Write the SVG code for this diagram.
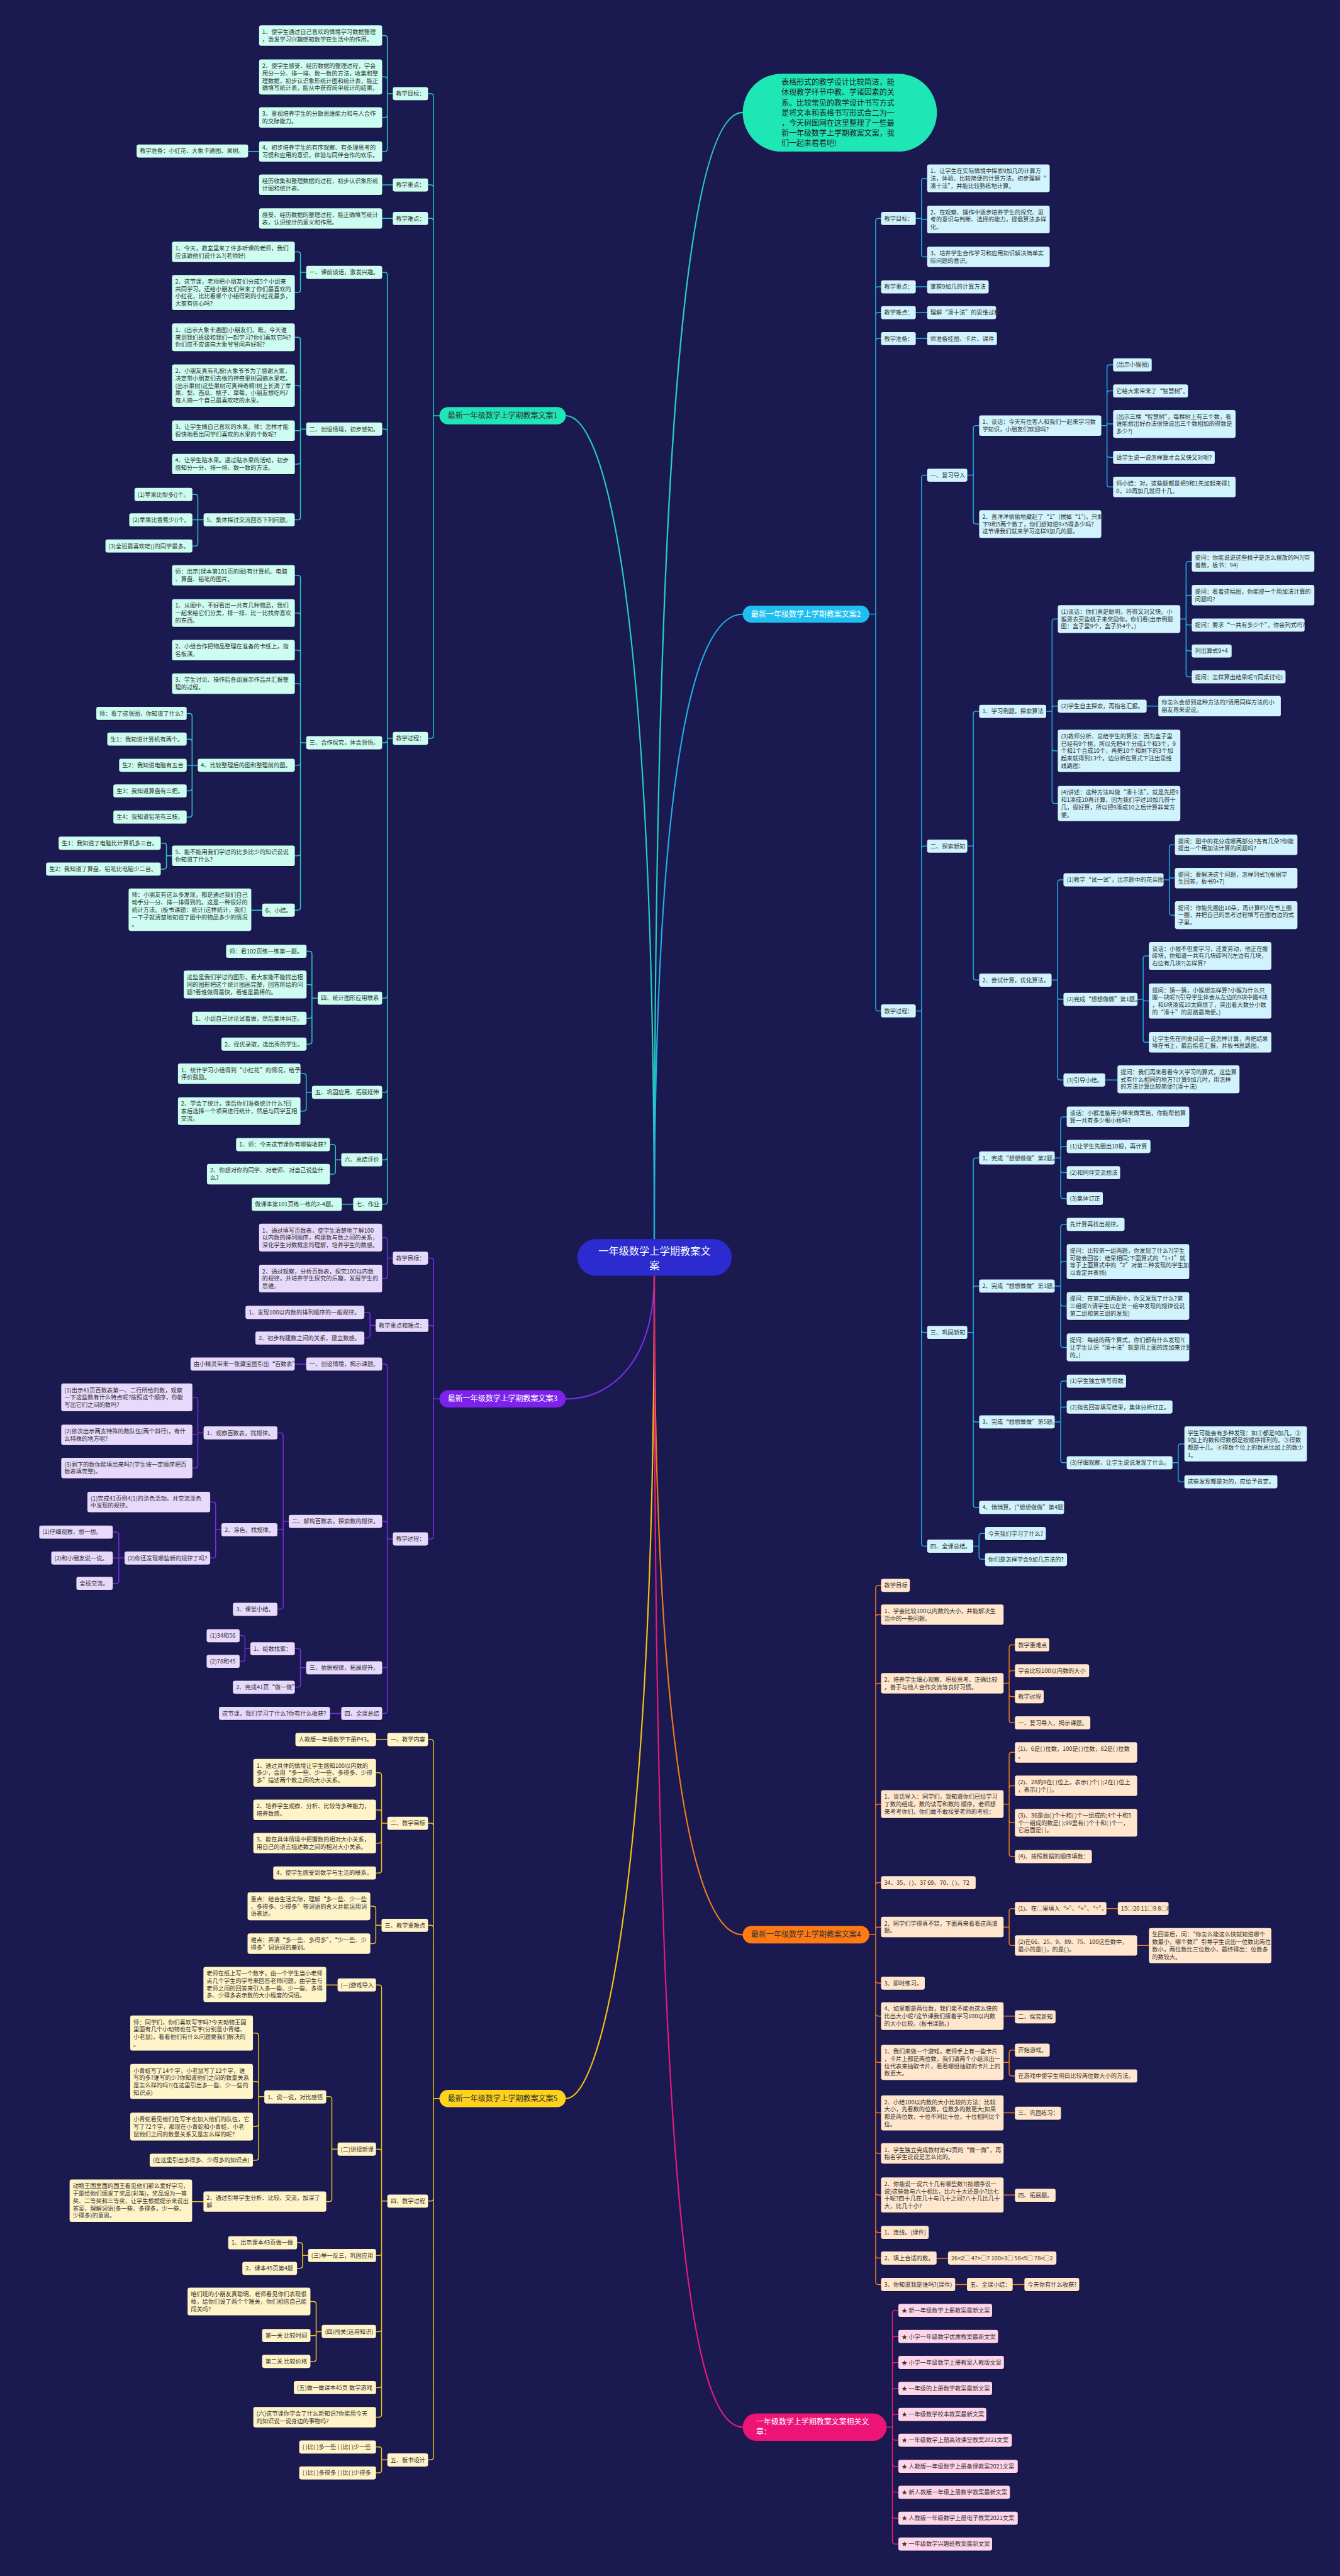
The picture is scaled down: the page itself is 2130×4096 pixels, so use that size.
<svg xmlns="http://www.w3.org/2000/svg" width="2130" height="4096" viewBox="0 0 2130 4096">
<defs>
<filter id="sh" x="-5%" y="-10%" width="110%" height="130%"><feDropShadow dx="0.6" dy="1.2" stdDeviation="0.8" flood-color="#000" flood-opacity="0.35"/></filter>
</defs>
<style>
.t{font-family:"Noto Sans CJK SC","Liberation Sans",sans-serif;font-size:11.1px;fill:#333}
.bt{font-family:"Noto Sans CJK SC","Liberation Sans",sans-serif;font-size:14.4px;text-anchor:middle}
rect.n{rx:4px;ry:4px;filter:url(#sh)}
.r1{fill:#cdfcf0}.r2{fill:#d0f3fd}.r3{fill:#e6d9fc}.r4{fill:#ffe6cd}.r5{fill:#fff3c8}.r6{fill:#ffd5ea}
.c{fill:none;stroke-width:1.8;stroke-linecap:round}
.k{fill:none;stroke-width:2.6;stroke-linecap:round}
.c1{stroke:#26cfc0}.c2{stroke:#1fb0e6}.c3{stroke:#7b2de8}.c4{stroke:#f07a1c}.c5{stroke:#f2c512}.c6{stroke:#e61b7b}
</style>
<rect width="2130" height="4096" fill="#1a1950"/>
<g transform="scale(0.832)">
<g id="connectors">
<path class="k c1" d="M1250 2368C1250 1000 1300 215 1419 215"/>
<path class="k c1" d="M1250 2368C1250 1100 1150 794.5 1081 794.5"/>
<path class="k c2" d="M1250 2368C1250 1500 1320 1173.7 1419 1173.7"/>
<path class="k c3" d="M1250 2438C1250 2600 1170 2673.5 1081 2673.5"/>
<path class="k c4" d="M1250 2438C1250 3300 1320 3697.5 1419 3697.5"/>
<path class="k c5" d="M1250 2438C1250 3600 1150 4010.5 1081 4010.5"/>
<path class="k c6" d="M1250 2438C1250 4200 1320 4638.5 1419 4638.5"/>
<path class="c c1" d="M839.5 794.5H828M828 794.5V184Q828 179 823 179H817.7M828 794.5V358.5Q828 353.5 823 353.5H817.7M828 794.5V422.5Q828 417.5 823 417.5H817.7M828 794.5V1406Q828 1411 823 1411H817.7
M750.5 179H740M740 179V73Q740 68 735 68H730M740 179V152Q740 147 735 147H730M740 179V219.5Q740 224.5 735 224.5H730M740 179V284.5Q740 289.5 735 289.5H730
M495 289.5H474M750.5 353.5H730M750.5 417.5H730
M750.5 1411H740M740 1411V525.5Q740 520.5 735 520.5H730M740 1411V825Q740 820 735 820H730M740 1411V1414.5Q740 1419.5 735 1419.5H730M740 1411V1902.5Q740 1907.5 735 1907.5H730M740 1411V2082.5Q740 2087.5 735 2087.5H730M740 1411V2211.5Q740 2216.5 735 2216.5H730M740 1411V2296.5Q740 2301.5 735 2301.5H730
M585 520.5H574M574 520.5V486.3Q574 481.3 569 481.3H563.2M574 520.5V554Q574 559 569 559H563.2
M585 820H574M574 820V649.5Q574 644.5 569 644.5H563.2M574 820V742Q574 737 569 737H563.2M574 820V823H563.2M574 820V882Q574 887 569 887H563.2M574 820V988.5Q574 993.5 569 993.5H563.2
M389 993.5H367.5M378 993.5V950Q378 945 373 945H367.5M378 993.5V1038.5Q378 1043.5 373 1043.5H367.5
M585 1419.5H574M574 1419.5V1104.5Q574 1099.5 569 1099.5H563.2M574 1419.5V1176.5Q574 1171.5 569 1171.5H563.2M574 1419.5V1247.5Q574 1242.5 569 1242.5H563.2M574 1419.5V1311.5Q574 1306.5 569 1306.5H563.2M574 1419.5V1457.5Q574 1462.5 569 1462.5H563.2M574 1419.5V1630.5Q574 1635.5 569 1635.5H563.2M574 1419.5V1734.5Q574 1739.5 569 1739.5H563.2
M377.8 1462.5H356.6M367 1462.5V1368.5Q367 1363.5 362 1363.5H356.6M367 1462.5V1417.5Q367 1412.5 362 1412.5H356.6M367 1462.5V1506.5Q367 1511.5 362 1511.5H356.6M367 1462.5V1556.5Q367 1561.5 362 1561.5H356.6
M328.7 1635.5H318M318 1635.5V1616.5Q318 1611.5 313 1611.5H307M318 1635.5V1656Q318 1661 313 1661H307
M501 1739.5H480
M607 1907.5H596M596 1907.5V1823Q596 1818 591 1818H585.6M596 1907.5V1886.5Q596 1881.5 591 1881.5H585.6M596 1907.5V1941Q596 1946 591 1946H585.6M596 1907.5V1990.5Q596 1995.5 591 1995.5H585.6
M596 2087.5H585M585 2087.5V2057Q585 2052 580 2052H574M585 2087.5V2118.5Q585 2123.5 580 2123.5H574
M652 2216.5H641M641 2216.5V2192.5Q641 2187.5 636 2187.5H630.5M641 2216.5V2239Q641 2244 636 2244H630.5
M674.7 2301.5H653"/>
<path class="c c3" d="M839.5 2673.5H828M828 2673.5V2409.5Q828 2404.5 823 2404.5H817.7M828 2673.5V2538Q828 2533 823 2533H817.7M828 2673.5V2936Q828 2941 823 2941H817.7
M750.5 2404.5H740M740 2404.5V2370Q740 2365 735 2365H730M740 2404.5V2438.5Q740 2443.5 735 2443.5H730
M717.7 2533H707M707 2533V2513Q707 2508 702 2508H696M707 2533V2552Q707 2557 702 2557H696
M750.5 2941H740M740 2941V2612Q740 2607 735 2607H730M740 2941V2912.5Q740 2907.5 735 2907.5H730M740 2941V3182.3Q740 3187.3 735 3187.3H730M740 2941V3269.5Q740 3274.5 735 3274.5H730
M585 2607H563
M551.7 2907.5H541M541 2907.5V2743.5Q541 2738.5 536 2738.5H530M541 2907.5V2918.5Q541 2923.5 536 2923.5H530M541 2907.5V3070Q541 3075 536 3075H530
M389 2738.5H378M378 2738.5V2675.5Q378 2670.5 373 2670.5H367.5M378 2738.5V2742H367.5M378 2738.5V2800.5Q378 2805.5 373 2805.5H367.5
M423 2923.5H412M412 2923.5V2875.5Q412 2870.5 407 2870.5H401.5M412 2923.5V2972.5Q412 2977.5 407 2977.5H401.5
M238 2977.5H215.4M227 2977.5V2933Q227 2928 222 2928H215.4M227 2977.5V3021Q227 3026 222 3026H215.4
M585 3187.3H574M574 3187.3V3155.5Q574 3150.5 569 3150.5H563.2M574 3187.3V3219.5Q574 3224.5 569 3224.5H563.2
M478.4 3150.5H468M468 3150.5V3131Q468 3126 463 3126H457.8M468 3150.5V3170Q468 3175 463 3175H457.8
M652 3274.5H630.5"/>
<path class="c c5" d="M839.5 4010.5H828M828 4010.5V3329.5Q828 3324.5 823 3324.5H817.7M828 4010.5V3489.5Q828 3484.5 823 3484.5H817.7M828 4010.5V3684.5Q828 3679.5 823 3679.5H817.7M828 4010.5V4201.5Q828 4206.5 823 4206.5H817.7M828 4010.5V4696Q828 4701 823 4701H817.7
M740 3324.5H718.3
M740 3484.5H729M729 3484.5V3393Q729 3388 724 3388H718.3M729 3484.5V3464Q729 3459 724 3459H718.3M729 3484.5V3517.5Q729 3522.5 724 3522.5H718.3M729 3484.5V3574.5Q729 3579.5 724 3579.5H718.3
M729 3679.5H718M718 3679.5V3648Q718 3643 713 3643H707.4M718 3679.5V3709.5Q718 3714.5 713 3714.5H707.4
M740 4206.5H729M729 4206.5V3798.5Q729 3793.5 724 3793.5H718.3M729 4206.5V4112.3Q729 4107.3 724 4107.3H718.3M729 4206.5V4305.5Q729 4310.5 724 4310.5H718.3M729 4206.5V4451Q729 4456 724 4456H718.3M729 4206.5V4558Q729 4563 724 4563H718.3M729 4206.5V4614.5Q729 4619.5 724 4619.5H718.3
M645 3793.5H623.2
M645 4107.3H634M634 4107.3V4012Q634 4007 629 4007H623.2M634 4107.3V4202.5Q634 4207.5 629 4207.5H623.2
M505 4007H494M494 4007V3890.5Q494 3885.5 489 3885.5H483.2M494 4007V3983Q494 3978 489 3978H483.2M494 4007V4059Q494 4064 489 4064H483.2M494 4007V4123.5Q494 4128.5 489 4128.5H483.2
M388.7 4207.5H367
M588.7 4310.5H578M578 4310.5V4291Q578 4286 573 4286H567.5M578 4310.5V4330Q578 4335 573 4335H567.5
M614.7 4456H604M604 4456V4403.5Q604 4398.5 599 4398.5H593M604 4456V4463.5H593M604 4456V4508Q604 4513 599 4513H593
M740 4701H729M729 4701V4681.5Q729 4676.5 724 4676.5H718.3M729 4701V4721Q729 4726 724 4726H718.3"/>
<path class="c c2" d="M1660.7 1173.7H1673M1673 1173.7V422.5Q1673 417.5 1678 417.5H1683.3M1673 1173.7V553Q1673 548 1678 548H1683.3M1673 1173.7V602.5Q1673 597.5 1678 597.5H1683.3M1673 1173.7V652Q1673 647 1678 647H1683.3M1673 1173.7V1927Q1673 1932 1678 1932H1683.3
M1749.5 417.5H1760.5M1760.5 417.5V346Q1760.5 341 1765.5 341H1771.4M1760.5 417.5V419.5H1771.4M1760.5 417.5V486Q1760.5 491 1765.5 491H1771.4
M1749.5 548H1771.4M1749.5 597.5H1771.4M1749.5 647H1771.4
M1749.5 1932H1760.5M1760.5 1932V913Q1760.5 908 1765.5 908H1771.4M1760.5 1932V1622Q1760.5 1617 1765.5 1617H1771.4M1760.5 1932V2541.5Q1760.5 2546.5 1765.5 2546.5H1771.4M1760.5 1932V2950Q1760.5 2955 1765.5 2955H1771.4
M1848 908H1859.5M1859.5 908V818.5Q1859.5 813.5 1864.5 813.5H1870.7M1859.5 908V996.5Q1859.5 1001.5 1864.5 1001.5H1870.7
M2104 813.5H2115M2115 813.5V702Q2115 697 2120 697H2126.6M2115 813.5V752Q2115 747 2120 747H2126.6M2115 813.5V810H2126.6M2115 813.5V869Q2115 874 2120 874H2126.6M2115 813.5V925.7Q2115 930.7 2120 930.7H2126.6
M1848 1617H1859.5M1859.5 1617V1364.5Q1859.5 1359.5 1864.5 1359.5H1870.7M1859.5 1617V1868Q1859.5 1873 1864.5 1873H1870.7
M1998.6 1359.5H2010M2010 1359.5V1188Q2010 1183 2015 1183H2021M2010 1359.5V1354.5Q2010 1349.5 2015 1349.5H2021M2010 1359.5V1430Q2010 1435 2015 1435H2021M2010 1359.5V1530.5Q2010 1535.5 2015 1535.5H2021
M2255 1183H2266M2266 1183V1078Q2266 1073 2271 1073H2277M2266 1183V1142.5Q2266 1137.5 2271 1137.5H2277M2266 1183V1189.5Q2266 1194.5 2271 1194.5H2277M2266 1183V1239Q2266 1244 2271 1244H2277M2266 1183V1288.5Q2266 1293.5 2271 1293.5H2277
M2190.6 1349.5H2213
M2009 1873H2020.5M2020.5 1873V1686.5Q2020.5 1681.5 2025.5 1681.5H2031.8M2020.5 1873V1905Q2020.5 1910 2025.5 1910H2031.8M2020.5 1873V2059Q2020.5 2064 2025.5 2064H2031.8
M2223 1681.5H2234M2234 1681.5V1619.5Q2234 1614.5 2239 1614.5H2244.7M2234 1681.5V1678H2244.7M2234 1681.5V1744Q2234 1749 2239 1749H2244.7
M2173.2 1910H2184M2184 1910V1832Q2184 1827 2189 1827H2195M2184 1910V1913H2195M2184 1910V1987Q2184 1992 2189 1992H2195
M2111.5 2064H2135
M1848 2546.5H1859.5M1859.5 2546.5V2218Q1859.5 2213 1864.5 2213H1870.7M1859.5 2546.5V2463Q1859.5 2458 1864.5 2458H1870.7M1859.5 2546.5V2712.5Q1859.5 2717.5 1864.5 2717.5H1870.7M1859.5 2546.5V2876Q1859.5 2881 1864.5 2881H1870.7
M2015 2213H2026.5M2026.5 2213V2139.5Q2026.5 2134.5 2031.5 2134.5H2038M2026.5 2213V2196Q2026.5 2191 2031.5 2191H2038M2026.5 2213V2236Q2026.5 2241 2031.5 2241H2038M2026.5 2213V2285.5Q2026.5 2290.5 2031.5 2290.5H2038
M2015 2458H2026.5M2026.5 2458V2345Q2026.5 2340 2031.5 2340H2038M2026.5 2458V2416Q2026.5 2411 2031.5 2411H2038M2026.5 2458V2491Q2026.5 2496 2031.5 2496H2038M2026.5 2458V2570Q2026.5 2575 2031.5 2575H2038
M2015 2717.5H2026.5M2026.5 2717.5V2644.5Q2026.5 2639.5 2031.5 2639.5H2038M2026.5 2717.5V2694Q2026.5 2689 2031.5 2689H2038M2026.5 2717.5V2790.5Q2026.5 2795.5 2031.5 2795.5H2038
M2240 2795.5H2251M2251 2795.5V2764.5Q2251 2759.5 2256 2759.5H2262.8M2251 2795.5V2827Q2251 2832 2256 2832H2262.8
M1859.4 2955H1870.5M1870.5 2955V2935.5Q1870.5 2930.5 1875.5 2930.5H1882M1870.5 2955V2975Q1870.5 2980 1875.5 2980H1882"/>
<path class="c c4" d="M1660.7 3697.5H1673M1673 3697.5V3035Q1673 3030 1678 3030H1683.3M1673 3697.5V3091Q1673 3086 1678 3086H1683.3M1673 3697.5V3222Q1673 3217 1678 3217H1683.3M1673 3697.5V3453Q1673 3448 1678 3448H1683.3M1673 3697.5V3603Q1673 3598 1678 3598H1683.3M1673 3697.5V3688Q1673 3683 1678 3683H1683.3M1673 3697.5V3785Q1673 3790 1678 3790H1683.3M1673 3697.5V3848Q1673 3853 1678 3853H1683.3M1673 3697.5V3936.5Q1673 3941.5 1678 3941.5H1683.3M1673 3697.5V4033Q1673 4038 1678 4038H1683.3M1673 3697.5V4110.5Q1673 4115.5 1678 4115.5H1683.3M1673 3697.5V4190Q1673 4195 1678 4195H1683.3M1673 3697.5V4261.5Q1673 4266.5 1678 4266.5H1683.3M1673 3697.5V4310.5Q1673 4315.5 1678 4315.5H1683.3M1673 3697.5V4361Q1673 4366 1678 4366H1683.3
M1917.4 3217H1928M1928 3217V3148.5Q1928 3143.5 1933 3143.5H1939M1928 3217V3198Q1928 3193 1933 3193H1939M1928 3217V3237.5Q1928 3242.5 1933 3242.5H1939M1928 3217V3287.5Q1928 3292.5 1933 3292.5H1939
M1917.4 3448H1928M1928 3448V3354Q1928 3349 1933 3349H1939M1928 3448V3418Q1928 3413 1933 3413H1939M1928 3448V3478.5Q1928 3483.5 1933 3483.5H1939M1928 3448V3543Q1928 3548 1933 3548H1939
M1917.4 3683H1928M1928 3683V3652.5Q1928 3647.5 1933 3647.5H1939M1928 3683V3713Q1928 3718 1933 3718H1939
M2113.8 3647.5H2135.6M2172.5 3718H2195M1917.4 3853H1939
M1917.4 3941.5H1928M1928 3941.5V3923Q1928 3918 1933 3918H1939M1928 3941.5V3962.5Q1928 3967.5 1933 3967.5H1939
M1917.4 4038H1939M1917.4 4195H1939M1789.4 4316H1811.2M1824.8 4366H1847.4M1934.7 4366H1957.2"/>
<path class="c c6" d="M1693.8 4638.5H1705M1705 4638.5V4420.5Q1705 4415.5 1710 4415.5H1716.4M1705 4638.5V4470.4Q1705 4465.4 1710 4465.4H1716.4M1705 4638.5V4520Q1705 4515 1710 4515H1716.4M1705 4638.5V4569.5Q1705 4564.5 1710 4564.5H1716.4M1705 4638.5V4619.4Q1705 4614.4 1710 4614.4H1716.4M1705 4638.5V4658.5Q1705 4663.5 1710 4663.5H1716.4M1705 4638.5V4708.5Q1705 4713.5 1710 4713.5H1716.4M1705 4638.5V4758Q1705 4763 1710 4763H1716.4M1705 4638.5V4807.7Q1705 4812.7 1710 4812.7H1716.4M1705 4638.5V4857Q1705 4862 1710 4862H1716.4"/>
</g>

<g id="root"><rect x="1103" y="2368" width="295" height="70" rx="35" fill="#2b2bcf"/><text x="1250.5" y="2397.7" style="font-family:'Noto Sans CJK SC',sans-serif;font-size:19.5px;fill:#fff;text-anchor:middle">一年级数学上学期教案文<tspan x="1250.5" dy="27.3">案</tspan></text></g>
<g id="intro"><rect x="1419" y="140.8" width="371" height="149" rx="74.5" fill="#1fe6b5"/><text x="1493" y="162.7" style="font-family:'Noto Sans CJK SC',sans-serif;font-size:14.4px;fill:#222">表格形式的教学设计比较简洁，能<tspan x="1493" dy="19.4">体现教学环节中教、学诸因素的关</tspan><tspan x="1493" dy="19.4">系。比较常见的教学设计书写方式</tspan><tspan x="1493" dy="19.4">是将文本和表格书写形式合二为一</tspan><tspan x="1493" dy="19.4">，今天树图网在这里整理了一些最</tspan><tspan x="1493" dy="19.4">新一年级数学上学期教案文案，我</tspan><tspan x="1493" dy="19.4">们一起来看看吧!</tspan></text></g>

<g id="branch1">
<g id="m1"><rect x="839.5" y="778" width="241.5" height="33" rx="16.5" fill="#1fe6b5"/><text class="bt" x="960.3" y="799.5" fill="#333">最新一年级数学上学期教案文案1</text></g>
<g id="b1-mb"><rect class="n r1" x="750.5" y="166.5" width="67.2" height="25"/><text class="t" x="756.5" y="183">教学目标：</text></g>
<g id="b1-zd"><rect class="n r1" x="750.5" y="341" width="67.2" height="25"/><text class="t" x="756.5" y="357.5">教学重点：</text></g>
<g id="b1-nd"><rect class="n r1" x="750.5" y="405" width="67.2" height="25"/><text class="t" x="756.5" y="421.5">教学难点：</text></g>
<g id="b1-gc"><rect class="n r1" x="750.5" y="1398.6" width="67.2" height="25"/><text class="t" x="756.5" y="1415.1">教学过程：</text></g>
<g id="b1-g1"><rect class="n r1" x="495" y="48.5" width="235" height="39"/><text class="t" x="501" y="65">1、使学生通过自己喜欢的情境学习数据整理<tspan x="501" dy="14.1">，激发学习兴趣感知数学在生活中的作用。</tspan></text></g>
<g id="b1-g2"><rect class="n r1" x="495" y="113.5" width="235" height="67"/><text class="t" x="501" y="130">2、使学生感受、经历数据的整理过程，学会<tspan x="501" dy="14.1">用分一分、排一排、数一数的方法，收集和整</tspan><tspan x="501" dy="14.1">理数据，初步认识象形统计图和统计表，能正</tspan><tspan x="501" dy="14.1">确填写统计表，能从中获得简单统计的结果。</tspan></text></g>
<g id="b1-g3"><rect class="n r1" x="495" y="205" width="235" height="39"/><text class="t" x="501" y="221.5">3、重视培养学生的分散思维能力和与人合作<tspan x="501" dy="14.1">的交际能力。</tspan></text></g>
<g id="b1-g4"><rect class="n r1" x="495" y="270" width="235" height="39"/><text class="t" x="501" y="286.5">4、初步培养学生的有序观察、有条理思考的<tspan x="501" dy="14.1">习惯和应用的意识，体验与同伴合作的欢乐。</tspan></text></g>
<g id="b1-prep"><rect class="n r1" x="261" y="276" width="213" height="25"/><text class="t" x="267" y="292.5">教学准备：小红花、大象卡通图、果树。</text></g>
<g id="b1-zd1"><rect class="n r1" x="495" y="333.6" width="235" height="39"/><text class="t" x="501" y="350.1">经历收集和整理数据的过程，初步认识象形统<tspan x="501" dy="14.1">计图和统计表。</tspan></text></g>
<g id="b1-nd1"><rect class="n r1" x="495" y="398" width="235" height="39"/><text class="t" x="501" y="414.5">感受、经历数据的整理过程，能正确填写统计<tspan x="501" dy="14.1">表，认识统计的意义和作用。</tspan></text></g>
<g id="b1-p1"><rect class="n r1" x="585" y="508" width="145" height="25"/><text class="t" x="591" y="524.5">一、课前谈话，激发兴趣。</text></g>
<g id="b1-p1a"><rect class="n r1" x="328.7" y="461.8" width="234.5" height="39"/><text class="t" x="334.7" y="478.3">1、今天，教室里来了许多听课的老师，我们<tspan x="334.7" dy="14.1">应该跟他们说什么?(老师好)</tspan></text></g>
<g id="b1-p1b"><rect class="n r1" x="328.7" y="525.5" width="234.5" height="67"/><text class="t" x="334.7" y="542">2、这节课，老师把小朋友们分成5个小组来<tspan x="334.7" dy="14.1">共同学习。还给小朋友们带来了你们最喜欢的</tspan><tspan x="334.7" dy="14.1">小红花，比比看哪个小组得到的小红花最多，</tspan><tspan x="334.7" dy="14.1">大家有信心吗?</tspan></text></g>
<g id="b1-p2"><rect class="n r1" x="585" y="807.5" width="145" height="25"/><text class="t" x="591" y="824">二、创设情境，初步感知。</text></g>
<g id="b1-p2a"><rect class="n r1" x="328.7" y="618" width="234.5" height="53"/><text class="t" x="334.7" y="634.5">1、(出示大象卡通图)小朋友们，瞧，今天谁<tspan x="334.7" dy="14.1">来到我们班级和我们一起学习?你们喜欢它吗?</tspan><tspan x="334.7" dy="14.1">你们应不应该向大象爷爷问声好呢?</tspan></text></g>
<g id="b1-p2b"><rect class="n r1" x="328.7" y="696.5" width="234.5" height="81"/><text class="t" x="334.7" y="713">2、小朋友真有礼貌!大象爷爷为了感谢大家，<tspan x="334.7" dy="14.1">决定带小朋友们去他的神奇果树园摘水果吃。</tspan><tspan x="334.7" dy="14.1">(出示果树)这些果树可真神奇啊!树上长满了苹</tspan><tspan x="334.7" dy="14.1">果、梨、西瓜、桃子、草莓，小朋友想吃吗?</tspan><tspan x="334.7" dy="14.1">每人摘一个自己最喜欢吃的水果。</tspan></text></g>
<g id="b1-p2c"><rect class="n r1" x="328.7" y="803.6" width="234.5" height="39"/><text class="t" x="334.7" y="820.1">3、让学生摘自己喜欢的水果。师：怎样才能<tspan x="334.7" dy="14.1">很快地看出同学们喜欢的水果的个数呢?</tspan></text></g>
<g id="b1-p2d"><rect class="n r1" x="328.7" y="867.4" width="234.5" height="39"/><text class="t" x="334.7" y="883.9">4、让学生贴水果。通过贴水果的活动，初步<tspan x="334.7" dy="14.1">感知分一分、排一排、数一数的方法。</tspan></text></g>
<g id="b1-p2e"><rect class="n r1" x="389" y="981" width="174" height="25"/><text class="t" x="395" y="997.5">5、集体探讨交流回答下列问题。</text></g>
<g id="b1-p2e1"><rect class="n r1" x="257" y="932.5" width="110.5" height="25"/><text class="t" x="263" y="949">(1)苹果比梨多()个。</text></g>
<g id="b1-p2e2"><rect class="n r1" x="247" y="981" width="120.5" height="25"/><text class="t" x="253" y="997.5">(2)苹果比香蕉少()个。</text></g>
<g id="b1-p2e3"><rect class="n r1" x="201.5" y="1031" width="166" height="25"/><text class="t" x="207.5" y="1047.5">(3)全班最喜欢吃()的同学最多。</text></g>
<g id="b1-p3"><rect class="n r1" x="585" y="1407" width="145" height="25"/><text class="t" x="591" y="1423.5">三、合作探究，体会领悟。</text></g>
<g id="b1-p3a"><rect class="n r1" x="328.7" y="1080" width="234.5" height="39"/><text class="t" x="334.7" y="1096.5">师：出示(课本第101页的图)有计算机、电脑<tspan x="334.7" dy="14.1">、算盘、铅笔的图片。</tspan></text></g>
<g id="b1-p3b"><rect class="n r1" x="328.7" y="1145" width="234.5" height="53"/><text class="t" x="334.7" y="1161.5">1、从图中，不好看出一共有几种物品，我们<tspan x="334.7" dy="14.1">一起来给它们分类，排一排、比一比找你喜欢</tspan><tspan x="334.7" dy="14.1">的东西。</tspan></text></g>
<g id="b1-p3c"><rect class="n r1" x="328.7" y="1223" width="234.5" height="39"/><text class="t" x="334.7" y="1239.5">2、小组合作把物品整理在准备的卡纸上，指<tspan x="334.7" dy="14.1">名板演。</tspan></text></g>
<g id="b1-p3d"><rect class="n r1" x="328.7" y="1287" width="234.5" height="39"/><text class="t" x="334.7" y="1303.5">3、学生讨论、操作后各组展示作品并汇报整<tspan x="334.7" dy="14.1">理的过程。</tspan></text></g>
<g id="b1-p3e"><rect class="n r1" x="377.8" y="1450" width="185.4" height="25"/><text class="t" x="383.8" y="1466.5">4、比较整理后的图和整理前的图。</text></g>
<g id="b1-p3e1"><rect class="n r1" x="184" y="1351" width="172.6" height="25"/><text class="t" x="190" y="1367.5">师：看了这张图，你知道了什么?</text></g>
<g id="b1-p3e2"><rect class="n r1" x="205" y="1400" width="151.6" height="25"/><text class="t" x="211" y="1416.5">生1：我知道计算机有两个。</text></g>
<g id="b1-p3e3"><rect class="n r1" x="227.6" y="1450" width="129" height="25"/><text class="t" x="233.6" y="1466.5">生2：我知道电脑有五台</text></g>
<g id="b1-p3e4"><rect class="n r1" x="216.6" y="1499" width="140" height="25"/><text class="t" x="222.6" y="1515.5">生3：我知道算盘有三把。</text></g>
<g id="b1-p3e5"><rect class="n r1" x="216.6" y="1549" width="140" height="25"/><text class="t" x="222.6" y="1565.5">生4：我知道铅笔有三枝。</text></g>
<g id="b1-p3f"><rect class="n r1" x="328.7" y="1616" width="234.5" height="39"/><text class="t" x="334.7" y="1632.5">5、能不能用我们学过的比多比少的知识说说<tspan x="334.7" dy="14.1">你知道了什么?</tspan></text></g>
<g id="b1-p3f1"><rect class="n r1" x="112" y="1599" width="195" height="25"/><text class="t" x="118" y="1615.5">生1：我知道了电脑比计算机多三台。</text></g>
<g id="b1-p3f2"><rect class="n r1" x="88" y="1648.5" width="219" height="25"/><text class="t" x="94" y="1665">生2：我知道了算盘、铅笔比电脑少二台。</text></g>
<g id="b1-p3g"><rect class="n r1" x="501" y="1727" width="62.2" height="25"/><text class="t" x="507" y="1743.5">6、小结。</text></g>
<g id="b1-p3g1"><rect class="n r1" x="245.7" y="1698" width="234.3" height="81"/><text class="t" x="251.7" y="1714.5">师：小朋友有这么多发现，都是通过我们自己<tspan x="251.7" dy="14.1">动手分一分、排一排得到的。这是一种很好的</tspan><tspan x="251.7" dy="14.1">统计方法。(板书课题：统计)这样统计，我们</tspan><tspan x="251.7" dy="14.1">一下子就清楚地知道了图中的物品多少的情况</tspan><tspan x="251.7" dy="14.1">。</tspan></text></g>
<g id="b1-p4"><rect class="n r1" x="607" y="1895" width="123" height="25"/><text class="t" x="613" y="1911.5">四、统计图形应用联系</text></g>
<g id="b1-p4a"><rect class="n r1" x="432" y="1805.5" width="153.6" height="25"/><text class="t" x="438" y="1822">师：看102页练一练第一题。</text></g>
<g id="b1-p4b"><rect class="n r1" x="351" y="1855" width="234.6" height="53"/><text class="t" x="357" y="1871.5">这些是我们学过的图形，看大家能不能找出相<tspan x="357" dy="14.1">同的图形把这个统计图画完整，回答所给的问</tspan><tspan x="357" dy="14.1">题?看谁做得最快，看谁是最棒的。</tspan></text></g>
<g id="b1-p4c"><rect class="n r1" x="367" y="1933.7" width="218.6" height="25"/><text class="t" x="373" y="1950.2">1、小组自己讨论试着做，然后集体纠正。</text></g>
<g id="b1-p4d"><rect class="n r1" x="423" y="1983" width="162.6" height="25"/><text class="t" x="429" y="1999.5">2、择优录取，选出秀的学生。</text></g>
<g id="b1-p5"><rect class="n r1" x="596" y="2075" width="134" height="25"/><text class="t" x="602" y="2091.5">五、巩固应用、拓展延伸</text></g>
<g id="b1-p5a"><rect class="n r1" x="340" y="2032.5" width="234" height="39"/><text class="t" x="346" y="2049">1、统计学习小组得到“小红花”的情况，给予<tspan x="346" dy="14.1">评价鼓励。</tspan></text></g>
<g id="b1-p5b"><rect class="n r1" x="340" y="2097" width="234" height="53"/><text class="t" x="346" y="2113.5">2、学会了统计，课后你们准备统计什么?回<tspan x="346" dy="14.1">家后选择一个项目进行统计，然后与同学互相</tspan><tspan x="346" dy="14.1">交流。</tspan></text></g>
<g id="b1-p6"><rect class="n r1" x="652" y="2204" width="78" height="25"/><text class="t" x="658" y="2220.5">六、总结评价</text></g>
<g id="b1-p6a"><rect class="n r1" x="451" y="2175" width="179.5" height="25"/><text class="t" x="457" y="2191.5">1、师：今天这节课你有哪些收获?</text></g>
<g id="b1-p6b"><rect class="n r1" x="395.4" y="2224.5" width="235" height="39"/><text class="t" x="401.4" y="2241">2、你想对你的同学、对老师、对自己说些什<tspan x="401.4" dy="14.1">么?</tspan></text></g>
<g id="b1-p7"><rect class="n r1" x="674.7" y="2289" width="55.3" height="25"/><text class="t" x="680.7" y="2305.5">七、作业</text></g>
<g id="b1-p7a"><rect class="n r1" x="481" y="2289" width="172" height="25"/><text class="t" x="487" y="2305.5">做课本第101页练一练的2-4题。</text></g>
</g>

<g id="branch3">
<g id="m3"><rect x="839.5" y="2657" width="241.5" height="33" rx="16.5" fill="#7d22ec"/><text class="bt" x="960.3" y="2678.5" fill="#fff">最新一年级数学上学期教案文案3</text></g>
<g id="b3-mb"><rect class="n r3" x="750.5" y="2392" width="67.2" height="25"/><text class="t" x="756.5" y="2408.5">教学目标：</text></g>
<g id="b3-zn"><rect class="n r3" x="717.7" y="2520.5" width="100.8" height="25"/><text class="t" x="723.7" y="2537">教学重点和难点：</text></g>
<g id="b3-gc"><rect class="n r3" x="750.5" y="2928.6" width="67.2" height="25"/><text class="t" x="756.5" y="2945.1">教学过程：</text></g>
<g id="b3-a1"><rect class="n r3" x="495" y="2338.7" width="235" height="53"/><text class="t" x="501" y="2355.2">1、通过填写百数表，使学生清楚地了解100<tspan x="501" dy="14.1">以内数的排列顺序，构建数与数之间的关系，</tspan><tspan x="501" dy="14.1">深化学生对数概念的理解，培养学生的数感。</tspan></text></g>
<g id="b3-a2"><rect class="n r3" x="495" y="2417" width="235" height="53"/><text class="t" x="501" y="2433.5">2、通过观察，分析百数表，探究100以内数<tspan x="501" dy="14.1">的规律，并培养学生探究的乐趣，发展学生的</tspan><tspan x="501" dy="14.1">思维。</tspan></text></g>
<g id="b3-b1"><rect class="n r3" x="469" y="2495.6" width="227" height="25"/><text class="t" x="475" y="2512.1">1、发现100以内数的排列顺序的一般规律。</text></g>
<g id="b3-b2"><rect class="n r3" x="488" y="2544.7" width="208" height="25"/><text class="t" x="494" y="2561.2">2、初步构建数之间的关系，建立数感。</text></g>
<g id="b3-c1"><rect class="n r3" x="585" y="2594.4" width="145" height="25"/><text class="t" x="591" y="2610.9">一、创设情境，揭示课题。</text></g>
<g id="b3-c1a"><rect class="n r3" x="364" y="2594.4" width="199" height="25"/><text class="t" x="370" y="2610.9">由小精灵带来一张藏宝图引出“百数表”</text></g>
<g id="b3-c2"><rect class="n r3" x="551.7" y="2895" width="178.3" height="25"/><text class="t" x="557.7" y="2911.5">二、解构百数表，探索数的规律。</text></g>
<g id="b3-c2a"><rect class="n r3" x="389" y="2726" width="141" height="25"/><text class="t" x="395" y="2742.5">1、观察百数表，找规律。</text></g>
<g id="b3-c2a1"><rect class="n r3" x="117" y="2644" width="250.5" height="53"/><text class="t" x="123" y="2660.5">(1)出示41页百数表第一、二行所给的数，观察<tspan x="123" dy="14.1">一下这些数有什么特点呢?按照这个顺序，你能</tspan><tspan x="123" dy="14.1">写出它们之间的数吗?</tspan></text></g>
<g id="b3-c2a2"><rect class="n r3" x="117" y="2722.6" width="250.5" height="39"/><text class="t" x="123" y="2739.1">(2)依次出示两支特殊的数队伍(两个斜行)，有什<tspan x="123" dy="14.1">么特殊的地方呢?</tspan></text></g>
<g id="b3-c2a3"><rect class="n r3" x="117" y="2786" width="250.5" height="39"/><text class="t" x="123" y="2802.5">(3)剩下的数你能填出来吗?(学生按一定顺序把百<tspan x="123" dy="14.1">数表填完整)。</tspan></text></g>
<g id="b3-c2b"><rect class="n r3" x="423" y="2911" width="107" height="25"/><text class="t" x="429" y="2927.5">2、涂色，找规律。</text></g>
<g id="b3-c2b1"><rect class="n r3" x="167" y="2851" width="234.5" height="39"/><text class="t" x="173" y="2867.5">(1)完成41页例4(1)的涂色活动。并交流涂色<tspan x="173" dy="14.1">中发现的规律。</tspan></text></g>
<g id="b3-c2b2"><rect class="n r3" x="238" y="2965" width="163.5" height="25"/><text class="t" x="244" y="2981.5">(2)你还发现哪些新的规律了吗?</text></g>
<g id="b3-c2b2a"><rect class="n r3" x="75" y="2915.5" width="140.4" height="25"/><text class="t" x="81" y="2932">(1)仔细观察，想一想。</text></g>
<g id="b3-c2b2b"><rect class="n r3" x="98" y="2965" width="117.4" height="25"/><text class="t" x="104" y="2981.5">(2)和小朋友说一说。</text></g>
<g id="b3-c2b2c"><rect class="n r3" x="146" y="3013.5" width="69.4" height="25"/><text class="t" x="152" y="3030">全班交流。</text></g>
<g id="b3-c2c"><rect class="n r3" x="445" y="3063" width="85" height="25"/><text class="t" x="451" y="3079.5">3、课堂小结。</text></g>
<g id="b3-c3"><rect class="n r3" x="585" y="3174.8" width="145" height="25"/><text class="t" x="591" y="3191.3">三、依据规律，拓展提升。</text></g>
<g id="b3-c3a"><rect class="n r3" x="478.4" y="3138.4" width="84.8" height="25"/><text class="t" x="484.4" y="3154.9">1、给数找家：</text></g>
<g id="b3-c3a1"><rect class="n r3" x="394.8" y="3113.5" width="63" height="25"/><text class="t" x="400.8" y="3130">(1)34和56</text></g>
<g id="b3-c3a2"><rect class="n r3" x="394.8" y="3162.6" width="63" height="25"/><text class="t" x="400.8" y="3179.1">(2)78和45</text></g>
<g id="b3-c3b"><rect class="n r3" x="445" y="3212" width="118.2" height="25"/><text class="t" x="451" y="3228.5">2、完成41页“做一做”</text></g>
<g id="b3-c4"><rect class="n r3" x="652" y="3262" width="78" height="25"/><text class="t" x="658" y="3278.5">四、全课总结</text></g>
<g id="b3-c4a"><rect class="n r3" x="418.4" y="3262" width="212.1" height="25"/><text class="t" x="424.4" y="3278.5">这节课，我们学习了什么?你有什么收获?</text></g>
</g>

<g id="branch5">
<g id="m5"><rect x="839.5" y="3994" width="241.5" height="33" rx="16.5" fill="#ffd21c"/><text class="bt" x="960.3" y="4015.5" fill="#333">最新一年级数学上学期教案文案5</text></g>
<g id="b5-1"><rect class="n r5" x="740" y="3312" width="77.7" height="25"/><text class="t" x="746" y="3328.5">一、教学内容</text></g>
<g id="b5-2"><rect class="n r5" x="740" y="3472" width="77.7" height="25"/><text class="t" x="746" y="3488.5">二、教学目标</text></g>
<g id="b5-3"><rect class="n r5" x="729" y="3667" width="88.7" height="25"/><text class="t" x="735" y="3683.5">三、教学重难点</text></g>
<g id="b5-4"><rect class="n r5" x="740" y="4194" width="77.7" height="25"/><text class="t" x="746" y="4210.5">四、教学过程</text></g>
<g id="b5-5"><rect class="n r5" x="740" y="4688.8" width="77.7" height="25"/><text class="t" x="746" y="4705.3">五、板书设计</text></g>
<g id="b5-1a"><rect class="n r5" x="564.4" y="3312" width="154" height="25"/><text class="t" x="570.4" y="3328.5">人教版一年级数学下册P43。</text></g>
<g id="b5-2a"><rect class="n r5" x="484" y="3361.6" width="234.3" height="53"/><text class="t" x="490" y="3378.1">1、通过具体的情境让学生感知100以内数的<tspan x="490" dy="14.1">多少，会用“多一些、少一些、多得多、少得</tspan><tspan x="490" dy="14.1">多”描述两个数之间的大小关系。</tspan></text></g>
<g id="b5-2b"><rect class="n r5" x="484" y="3439.4" width="234.3" height="39"/><text class="t" x="490" y="3455.9">2、培养学生观察、分析、比较等多种能力，<tspan x="490" dy="14.1">培养数感。</tspan></text></g>
<g id="b5-2c"><rect class="n r5" x="484" y="3503" width="234.3" height="39"/><text class="t" x="490" y="3519.5">3、能在具体情境中把握数的相对大小关系，<tspan x="490" dy="14.1">用自己的语言描述数之间的相对大小关系。</tspan></text></g>
<g id="b5-2d"><rect class="n r5" x="522" y="3567" width="196.3" height="25"/><text class="t" x="528" y="3583.5">4、使学生感受到数学与生活的联系。</text></g>
<g id="b5-3a"><rect class="n r5" x="473" y="3616.7" width="234.4" height="53"/><text class="t" x="479" y="3633.2">重点：结合生活实际，理解“多一些、少一些<tspan x="479" dy="14.1">、多得多、少得多”等词语的含义并能运用词</tspan><tspan x="479" dy="14.1">语表述。</tspan></text></g>
<g id="b5-3b"><rect class="n r5" x="473" y="3695" width="234.4" height="39"/><text class="t" x="479" y="3711.5">难点：弄清“多一些、多得多”，“少一些、少<tspan x="479" dy="14.1">得多”词语间的差别。</tspan></text></g>
<g id="b5-4a"><rect class="n r5" x="645" y="3781" width="73.3" height="25"/><text class="t" x="651" y="3797.5">(一)游戏导入</text></g>
<g id="b5-4a1"><rect class="n r5" x="388.7" y="3759" width="234.5" height="67"/><text class="t" x="394.7" y="3775.5">老师在纸上写一个数字，由一个学生当小老师<tspan x="394.7" dy="14.1">点几个学生的学号来回答老师问题，由学生与</tspan><tspan x="394.7" dy="14.1">老师之间的回答来引入多一些、少一些、多得</tspan><tspan x="394.7" dy="14.1">多、少得多表示数的大小程度的词语。</tspan></text></g>
<g id="b5-4b"><rect class="n r5" x="645" y="4094.8" width="73.3" height="25"/><text class="t" x="651" y="4111.3">(二)讲授新课</text></g>
<g id="b5-4b1"><rect class="n r5" x="505" y="3995" width="118.2" height="25"/><text class="t" x="511" y="4011.5">1、说一说，对比感悟</text></g>
<g id="b5-4b1a"><rect class="n r5" x="248.8" y="3852" width="234.4" height="67"/><text class="t" x="254.8" y="3868.5">师：同学们，你们喜欢写字吗?今天动物王国<tspan x="254.8" dy="14.1">里面有几个小动物也在写字(分别是小青蛙、</tspan><tspan x="254.8" dy="14.1">小老鼠)，看看他们有什么问题要我们解决的</tspan><tspan x="254.8" dy="14.1">。</tspan></text></g>
<g id="b5-4b1b"><rect class="n r5" x="248.8" y="3944.5" width="234.4" height="67"/><text class="t" x="254.8" y="3961">小青蛙写了14个字，小老鼠写了12个字，谁<tspan x="254.8" dy="14.1">写的多?谁写的少?你知道他们之间的数量关系</tspan><tspan x="254.8" dy="14.1">是怎么样的吗?(在这里引出多一些、少一些的</tspan><tspan x="254.8" dy="14.1">知识点)</tspan></text></g>
<g id="b5-4b1c"><rect class="n r5" x="248.8" y="4037.7" width="234.4" height="53"/><text class="t" x="254.8" y="4054.2">小青蛇看见他们在写字也加入他们的队伍，它<tspan x="254.8" dy="14.1">写了72个字，那现在小青蛇和小青蛙、小老</tspan><tspan x="254.8" dy="14.1">鼠他们之间的数量关系又是怎么样的呢?</tspan></text></g>
<g id="b5-4b1d"><rect class="n r5" x="286" y="4116" width="197.2" height="25"/><text class="t" x="292" y="4132.5">(在这里引出多得多、少得多的知识点)</text></g>
<g id="b5-4b2"><rect class="n r5" x="388.7" y="4188" width="234.5" height="39"/><text class="t" x="394.7" y="4204.5">2、通过引导学生分析、比较、交流，加深了<tspan x="394.7" dy="14.1">解</tspan></text></g>
<g id="b5-4b2a"><rect class="n r5" x="133" y="4165.4" width="234" height="81"/><text class="t" x="139" y="4181.9">动物王国里面的国王看见他们那么爱好学习，<tspan x="139" dy="14.1">于是给他们颁发了奖品(彩笔)，奖品设为一等</tspan><tspan x="139" dy="14.1">奖、二等奖和三等奖，让学生根据提示来说出</tspan><tspan x="139" dy="14.1">答案，理解词语(多一些、多得多，少一些、</tspan><tspan x="139" dy="14.1">少得多)的意思。</tspan></text></g>
<g id="b5-4c"><rect class="n r5" x="588.7" y="4298" width="129.6" height="25"/><text class="t" x="594.7" y="4314.5">(三)举一反三，巩固应用</text></g>
<g id="b5-4c1"><rect class="n r5" x="436" y="4273.7" width="131.5" height="25"/><text class="t" x="442" y="4290.2">1、出示课本43页做一做</text></g>
<g id="b5-4c2"><rect class="n r5" x="463" y="4322.6" width="104.5" height="25"/><text class="t" x="469" y="4339.1">2、课本45页第4题</text></g>
<g id="b5-4d"><rect class="n r5" x="614.7" y="4443.3" width="103.6" height="25"/><text class="t" x="620.7" y="4459.8">(四)闯关(运用知识)</text></g>
<g id="b5-4d1"><rect class="n r5" x="358.4" y="4372" width="234.6" height="53"/><text class="t" x="364.4" y="4388.5">咱们班的小朋友真聪明，老师看见你们表现很<tspan x="364.4" dy="14.1">棒，给你们设了两个个难关，你们相信自己能</tspan><tspan x="364.4" dy="14.1">闯关吗?</tspan></text></g>
<g id="b5-4d2"><rect class="n r5" x="500.8" y="4451" width="92.2" height="25"/><text class="t" x="506.8" y="4467.5">第一关 比较时间</text></g>
<g id="b5-4d3"><rect class="n r5" x="500.8" y="4500.4" width="92.2" height="25"/><text class="t" x="506.8" y="4516.9">第二关 比较价格</text></g>
<g id="b5-4e"><rect class="n r5" x="561.4" y="4550.4" width="157" height="25"/><text class="t" x="567.4" y="4566.9">(五)做一做课本45页 数学游戏</text></g>
<g id="b5-4f"><rect class="n r5" x="484" y="4600" width="234.3" height="39"/><text class="t" x="490" y="4616.5">(六)这节课你学会了什么新知识?你能用今天<tspan x="490" dy="14.1">的知识说一说身边的事物吗?</tspan></text></g>
<g id="b5-5a"><rect class="n r5" x="571.7" y="4664" width="146.6" height="25"/><text class="t" x="577.7" y="4680.5">( )比( )多一些 ( )比( )少一些</text></g>
<g id="b5-5b"><rect class="n r5" x="571.7" y="4713.5" width="146.6" height="25"/><text class="t" x="577.7" y="4730">( )比( )多得多 ( )比( )少得多</text></g>
</g>

<g id="branch2">
<g id="m2"><rect x="1419" y="1157.6" width="241.7" height="32.2" rx="16" fill="#1ebff0"/><text class="bt" x="1539.9" y="1179" fill="#fff">最新一年级数学上学期教案文案2</text></g>
<g id="b2-mb"><rect class="n r2" x="1683.3" y="405" width="66.2" height="25"/><text class="t" x="1689.3" y="421.5">教学目标：</text></g>
<g id="b2-zd"><rect class="n r2" x="1683.3" y="535.7" width="66.2" height="25"/><text class="t" x="1689.3" y="552.2">教学重点：</text></g>
<g id="b2-nd"><rect class="n r2" x="1683.3" y="585" width="66.2" height="25"/><text class="t" x="1689.3" y="601.5">教学难点：</text></g>
<g id="b2-zb"><rect class="n r2" x="1683.3" y="634.7" width="66.2" height="25"/><text class="t" x="1689.3" y="651.2">教学准备：</text></g>
<g id="b2-gc"><rect class="n r2" x="1683.3" y="1919.4" width="66.2" height="25"/><text class="t" x="1689.3" y="1935.9">教学过程：</text></g>
<g id="b2-t1"><rect class="n r2" x="1771.4" y="314.3" width="234" height="53"/><text class="t" x="1777.4" y="330.8">1、让学生在实际情境中探索9加几的计算方<tspan x="1777.4" dy="14.1">法，体验、比较简便的计算方法，初步理解“</tspan><tspan x="1777.4" dy="14.1">凑十法”，并能比较熟练地计算。</tspan></text></g>
<g id="b2-t2"><rect class="n r2" x="1771.4" y="392.9" width="234" height="53"/><text class="t" x="1777.4" y="409.4">2、在观察、操作中逐步培养学生的探究、思<tspan x="1777.4" dy="14.1">考的意识与判断、选择的能力，提倡算法多样</tspan><tspan x="1777.4" dy="14.1">化。</tspan></text></g>
<g id="b2-t3"><rect class="n r2" x="1771.4" y="471.4" width="234" height="39"/><text class="t" x="1777.4" y="487.9">3、培养学生合作学习和应用知识解决简单实<tspan x="1777.4" dy="14.1">际问题的意识。</tspan></text></g>
<g id="b2-z"><rect class="n r2" x="1771.4" y="535.7" width="117.4" height="25"/><text class="t" x="1777.4" y="552.2">掌握9加几的计算方法</text></g>
<g id="b2-n"><rect class="n r2" x="1771.4" y="585" width="131.6" height="25"/><text class="t" x="1777.4" y="601.5">理解“凑十法”的思维过程</text></g>
<g id="b2-p"><rect class="n r2" x="1771.4" y="634.7" width="133.2" height="25"/><text class="t" x="1777.4" y="651.2">师准备挂图、卡片、课件</text></g>
<g id="b2-q1"><rect class="n r2" x="1771.4" y="895.6" width="76.6" height="25"/><text class="t" x="1777.4" y="912.1">一、复习导入</text></g>
<g id="b2-q1a"><rect class="n r2" x="1870.7" y="793.9" width="233.3" height="39"/><text class="t" x="1876.7" y="810.4">1、谈话：今天有位客人和我们一起来学习数<tspan x="1876.7" dy="14.1">学知识，小朋友们欢迎吗?</tspan></text></g>
<g id="b2-q1a1"><rect class="n r2" x="2126.6" y="684.7" width="73.7" height="25"/><text class="t" x="2132.6" y="701.2">(出示小猴图)</text></g>
<g id="b2-q1a2"><rect class="n r2" x="2126.6" y="734.7" width="143" height="25"/><text class="t" x="2132.6" y="751.2">它给大家带来了“智慧树”。</text></g>
<g id="b2-q1a3"><rect class="n r2" x="2126.6" y="783.7" width="234" height="53"/><text class="t" x="2132.6" y="800.2">(出示三棵“智慧树”，每棵树上有三个数，看<tspan x="2132.6" dy="14.1">谁能想出好办法很快说出三个数相加的得数是</tspan><tspan x="2132.6" dy="14.1">多少?)</tspan></text></g>
<g id="b2-q1a4"><rect class="n r2" x="2126.6" y="861.7" width="194.2" height="25"/><text class="t" x="2132.6" y="878.2">请学生说一说怎样算才会又快又对呢?</text></g>
<g id="b2-q1a5"><rect class="n r2" x="2126.6" y="911.2" width="234" height="39"/><text class="t" x="2132.6" y="927.7">师小结：对，这些题都是把9和1先加起来得1<tspan x="2132.6" dy="14.1">0，10再加几就得十几。</tspan></text></g>
<g id="b2-q1b"><rect class="n r2" x="1870.7" y="975" width="233.3" height="53"/><text class="t" x="1876.7" y="991.5">2、喜洋洋偷偷地藏起了“1”(擦掉“1”)，只剩<tspan x="1876.7" dy="14.1">下9和5两个数了，你们想知道9+5得多少吗?</tspan><tspan x="1876.7" dy="14.1">这节课我们就来学习这样9加几的题。</tspan></text></g>
<g id="b2-q2"><rect class="n r2" x="1771.4" y="1604.6" width="76.6" height="25"/><text class="t" x="1777.4" y="1621.1">二、探索新知</text></g>
<g id="b2-q2a"><rect class="n r2" x="1870.7" y="1347" width="128" height="25"/><text class="t" x="1876.7" y="1363.5">1、学习例题，探索算法</text></g>
<g id="b2-q2a1"><rect class="n r2" x="2021" y="1156.6" width="234" height="53"/><text class="t" x="2027" y="1173.1">(1)谈话：你们真是聪明，答得又对又快。小<tspan x="2027" dy="14.1">猴要去买些桃子来奖励你，你们看(出示例题</tspan><tspan x="2027" dy="14.1">图：盒子里9个，盒子外4个。)</tspan></text></g>
<g id="b2-q2a1a"><rect class="n r2" x="2277" y="1053.6" width="234" height="39"/><text class="t" x="2283" y="1070.1">提问：你能说说这些桃子是怎么摆放的吗?(带<tspan x="2283" dy="14.1">着数，板书：94)</tspan></text></g>
<g id="b2-q2a1b"><rect class="n r2" x="2277" y="1117.9" width="234" height="39"/><text class="t" x="2283" y="1134.4">提问：看着这幅图，你能提一个用加法计算的<tspan x="2283" dy="14.1">问题吗?</tspan></text></g>
<g id="b2-q2a1c"><rect class="n r2" x="2277" y="1182" width="215.4" height="25"/><text class="t" x="2283" y="1198.5">提问：要求“一共有多少个”，你会列式吗?</text></g>
<g id="b2-q2a1d"><rect class="n r2" x="2277" y="1231.6" width="76" height="25"/><text class="t" x="2283" y="1248.1">列出算式9+4</text></g>
<g id="b2-q2a1e"><rect class="n r2" x="2277" y="1281" width="179" height="25"/><text class="t" x="2283" y="1297.5">提问：怎样算出结果呢?(同桌讨论)</text></g>
<g id="b2-q2a2"><rect class="n r2" x="2021" y="1337" width="169.6" height="25"/><text class="t" x="2027" y="1353.5">(2)学生自主探索，再指名汇报。</text></g>
<g id="b2-q2a2a"><rect class="n r2" x="2213" y="1330" width="234" height="39"/><text class="t" x="2219" y="1346.5">你怎么会想到这种方法的?请用同样方法的小<tspan x="2219" dy="14.1">朋友再来说说。</tspan></text></g>
<g id="b2-q2a3"><rect class="n r2" x="2021" y="1394.4" width="234" height="81"/><text class="t" x="2027" y="1410.9">(3)教师分析、总结学生的算法：因为盒子里<tspan x="2027" dy="14.1">已经有9个桃，所以先把4个分成1个和3个，9</tspan><tspan x="2027" dy="14.1">个和1个合成10个，再把10个和剩下的3个加</tspan><tspan x="2027" dy="14.1">起来就得到13个。边分析在算式下注出思维</tspan><tspan x="2027" dy="14.1">线路图：</tspan></text></g>
<g id="b2-q2a4"><rect class="n r2" x="2021" y="1502" width="234" height="67"/><text class="t" x="2027" y="1518.5">(4)讲述：这种方法叫做“凑十法”，就是先把9<tspan x="2027" dy="14.1">和1凑成10再计算，因为我们学过10加几得十</tspan><tspan x="2027" dy="14.1">几，很好算，所以把9凑成10之后计算非常方</tspan><tspan x="2027" dy="14.1">便。</tspan></text></g>
<g id="b2-q2b"><rect class="n r2" x="1870.7" y="1860.7" width="138.3" height="25"/><text class="t" x="1876.7" y="1877.2">2、尝试计算，优化算法。</text></g>
<g id="b2-q2b1"><rect class="n r2" x="2031.8" y="1669" width="191.2" height="25"/><text class="t" x="2037.8" y="1685.5">(1)教学“试一试”，出示题中的花朵图</text></g>
<g id="b2-q2b1a"><rect class="n r2" x="2244.7" y="1595" width="234" height="39"/><text class="t" x="2250.7" y="1611.5">提问：图中的花分成哪两部分?各有几朵?你能<tspan x="2250.7" dy="14.1">提出一个用加法计算的问题吗?</tspan></text></g>
<g id="b2-q2b1b"><rect class="n r2" x="2244.7" y="1658.7" width="234" height="39"/><text class="t" x="2250.7" y="1675.2">提问：要解决这个问题，怎样列式?(根据学<tspan x="2250.7" dy="14.1">生回答，板书9+7)</tspan></text></g>
<g id="b2-q2b1c"><rect class="n r2" x="2244.7" y="1722.4" width="234" height="53"/><text class="t" x="2250.7" y="1738.9">提问：你能先圈出10朵，再计算吗?在书上圈<tspan x="2250.7" dy="14.1">一圈，并把自己的思考过程填写在图右边的式</tspan><tspan x="2250.7" dy="14.1">子里。</tspan></text></g>
<g id="b2-q2b2"><rect class="n r2" x="2031.8" y="1897.4" width="141.4" height="25"/><text class="t" x="2037.8" y="1913.9">(2)完成“想想做做”第1题。</text></g>
<g id="b2-q2b2a"><rect class="n r2" x="2195" y="1800.5" width="234" height="53"/><text class="t" x="2201" y="1817">谈话：小猴不但爱学习，还爱劳动，他正在搬<tspan x="2201" dy="14.1">砖块，你知道一共有几块砖吗?(左边有几块，</tspan><tspan x="2201" dy="14.1">右边有几块?)怎样算?</tspan></text></g>
<g id="b2-q2b2b"><rect class="n r2" x="2195" y="1879.6" width="234" height="67"/><text class="t" x="2201" y="1896.1">提问：猜一猜，小猴想怎样算?小猴为什么只<tspan x="2201" dy="14.1">搬一块呢?(引导学生体会从左边的9块中搬4块</tspan><tspan x="2201" dy="14.1">，和6块凑成10太麻烦了，突出看大数分小数</tspan><tspan x="2201" dy="14.1">的“凑十”的思路最简便。)</tspan></text></g>
<g id="b2-q2b2c"><rect class="n r2" x="2195" y="1972.4" width="234" height="39"/><text class="t" x="2201" y="1988.9">让学生先在同桌间说一说怎样计算，再把结果<tspan x="2201" dy="14.1">填在书上，最后指名汇报，并板书思路图。</tspan></text></g>
<g id="b2-q2b3"><rect class="n r2" x="2031.8" y="2051.5" width="79.7" height="25"/><text class="t" x="2037.8" y="2068">(3)引导小结。</text></g>
<g id="b2-q2b3a"><rect class="n r2" x="2135" y="2036.2" width="233" height="53"/><text class="t" x="2141" y="2052.7">提问：我们再来看看今天学习的算式，这些算<tspan x="2141" dy="14.1">式有什么相同的地方?计算9加几时，用怎样</tspan><tspan x="2141" dy="14.1">的方法计算比较简便?(凑十法)</tspan></text></g>
<g id="b2-q3"><rect class="n r2" x="1771.4" y="2534" width="76.6" height="25"/><text class="t" x="1777.4" y="2550.5">三、巩固新知</text></g>
<g id="b2-q3a"><rect class="n r2" x="1870.7" y="2200.5" width="144.3" height="25"/><text class="t" x="1876.7" y="2217">1、完成“想想做做”第2题。</text></g>
<g id="b2-q3a1"><rect class="n r2" x="2038" y="2114.8" width="234" height="39"/><text class="t" x="2044" y="2131.3">谈话：小猴准备用小棒来做篱笆，你能帮他算<tspan x="2044" dy="14.1">算一共有多少根小棒吗?</tspan></text></g>
<g id="b2-q3a2"><rect class="n r2" x="2038" y="2178.6" width="160" height="25"/><text class="t" x="2044" y="2195.1">(1)让学生先圈出10根，再计算</text></g>
<g id="b2-q3a3"><rect class="n r2" x="2038" y="2228.6" width="102" height="25"/><text class="t" x="2044" y="2245.1">(2)和同伴交流想法</text></g>
<g id="b2-q3a4"><rect class="n r2" x="2038" y="2278" width="69" height="25"/><text class="t" x="2044" y="2294.5">(3)集体订正</text></g>
<g id="b2-q3b"><rect class="n r2" x="1870.7" y="2445.4" width="144.3" height="25"/><text class="t" x="1876.7" y="2461.9">2、完成“想想做做”第3题。</text></g>
<g id="b2-q3b1"><rect class="n r2" x="2038" y="2327.5" width="110.4" height="25"/><text class="t" x="2044" y="2344">先计算再找出规律。</text></g>
<g id="b2-q3b2"><rect class="n r2" x="2038" y="2377.6" width="234" height="67"/><text class="t" x="2044" y="2394.1">提问：比较第一组两题，你发现了什么?(学生<tspan x="2044" dy="14.1">可能会回答：结果相同;下面算式的“1+1”就</tspan><tspan x="2044" dy="14.1">等于上面算式中的“2”对第二种发现的学生加</tspan><tspan x="2044" dy="14.1">以肯定并表扬)</tspan></text></g>
<g id="b2-q3b3"><rect class="n r2" x="2038" y="2469.4" width="234" height="53"/><text class="t" x="2044" y="2485.9">提问：在第二组两题中，你又发现了什么?第<tspan x="2044" dy="14.1">三组呢?(请学生以在第一组中发现的规律说说</tspan><tspan x="2044" dy="14.1">第二组和第三组的发现)</tspan></text></g>
<g id="b2-q3b4"><rect class="n r2" x="2038" y="2548.5" width="234" height="53"/><text class="t" x="2044" y="2565">提问：每组的两个算式，你们都有什么发现?(<tspan x="2044" dy="14.1">让学生认识“凑十法”就是用上面的连加来计算</tspan><tspan x="2044" dy="14.1">的。)</tspan></text></g>
<g id="b2-q3c"><rect class="n r2" x="1870.7" y="2705" width="144.3" height="25"/><text class="t" x="1876.7" y="2721.5">3、完成“想想做做”第5题。</text></g>
<g id="b2-q3c1"><rect class="n r2" x="2038" y="2627" width="113.4" height="25"/><text class="t" x="2044" y="2643.5">(1)学生独立填写得数</text></g>
<g id="b2-q3c2"><rect class="n r2" x="2038" y="2676.5" width="202" height="25"/><text class="t" x="2044" y="2693">(2)指名回答填写结果，集体分析订正。</text></g>
<g id="b2-q3c3"><rect class="n r2" x="2038" y="2783" width="202" height="25"/><text class="t" x="2044" y="2799.5">(3)仔细观察，让学生说说发现了什么。</text></g>
<g id="b2-q3c3a"><rect class="n r2" x="2262.8" y="2726" width="234" height="67"/><text class="t" x="2268.8" y="2742.5">学生可能会有多种发现：如①都是9加几。②<tspan x="2268.8" dy="14.1">9加上的数和得数都是按顺序排列的。③得数</tspan><tspan x="2268.8" dy="14.1">都是十几。④得数个位上的数总比加上的数少</tspan><tspan x="2268.8" dy="14.1">1。</tspan></text></g>
<g id="b2-q3c3b"><rect class="n r2" x="2262.8" y="2819.4" width="177.6" height="25"/><text class="t" x="2268.8" y="2835.9">这些发现都是对的，应给予肯定。</text></g>
<g id="b2-q3d"><rect class="n r2" x="1870.7" y="2868.4" width="162.3" height="25"/><text class="t" x="1876.7" y="2884.9">4、悄悄算。(“想想做做”第4题)</text></g>
<g id="b2-q4"><rect class="n r2" x="1771.4" y="2942.4" width="88" height="25"/><text class="t" x="1777.4" y="2958.9">四、全课总结。</text></g>
<g id="b2-q4a"><rect class="n r2" x="1882" y="2918.4" width="116" height="25"/><text class="t" x="1888" y="2934.9">今天我们学习了什么?</text></g>
<g id="b2-q4b"><rect class="n r2" x="1882" y="2968" width="156.5" height="25"/><text class="t" x="1888" y="2984.5">你们是怎样学会9加几方法的?</text></g>
</g>

<g id="branch4">
<g id="m4"><rect x="1419" y="3680.6" width="241.7" height="33.7" rx="16.8" fill="#ff7a12"/><text class="bt" x="1539.9" y="3702.5" fill="#333">最新一年级数学上学期教案文案4</text></g>
<g id="b4-o1"><rect class="n r4" x="1683.3" y="3017.3" width="55" height="25"/><text class="t" x="1689.3" y="3033.8">教学目标</text></g>
<g id="b4-o2"><rect class="n r4" x="1683.3" y="3066.3" width="234" height="39"/><text class="t" x="1689.3" y="3082.8">1、学会比较100以内数的大小，并能解决生<tspan x="1689.3" dy="14.1">活中的一些问题。</tspan></text></g>
<g id="b4-o3"><rect class="n r4" x="1683.3" y="3197.4" width="234" height="39"/><text class="t" x="1689.3" y="3213.9">2、培养学生细心观察、积极思考、正确比较<tspan x="1689.3" dy="14.1">，善于与他人合作交流等良好习惯。</tspan></text></g>
<g id="b4-o3a"><rect class="n r4" x="1939" y="3131" width="65.7" height="25"/><text class="t" x="1945" y="3147.5">教学重难点</text></g>
<g id="b4-o3b"><rect class="n r4" x="1939" y="3180.6" width="141.7" height="25"/><text class="t" x="1945" y="3197.1">学会比较100以内数的大小</text></g>
<g id="b4-o3c"><rect class="n r4" x="1939" y="3230" width="55" height="25"/><text class="t" x="1945" y="3246.5">教学过程</text></g>
<g id="b4-o3d"><rect class="n r4" x="1939" y="3280" width="144" height="25"/><text class="t" x="1945" y="3296.5">一、复习导入，揭示课题。</text></g>
<g id="b4-o4"><rect class="n r4" x="1683.3" y="3421.4" width="234" height="53"/><text class="t" x="1689.3" y="3437.9">1、谈话导入：同学们，我知道你们已经学习<tspan x="1689.3" dy="14.1">了数的组成，数的读写和数的 顺序，老师想</tspan><tspan x="1689.3" dy="14.1">来考考你们，你们敢不敢接受老师的考验：</tspan></text></g>
<g id="b4-o4a"><rect class="n r4" x="1939" y="3329.6" width="233.5" height="39"/><text class="t" x="1945" y="3346.1">(1)、6是( )位数，100是( )位数，82是( )位数<tspan x="1945" dy="14.1">。</tspan></text></g>
<g id="b4-o4b"><rect class="n r4" x="1939" y="3393.4" width="233.5" height="39"/><text class="t" x="1945" y="3409.9">(2)、28的8在( )位上，表示( )个( );2在( )位上<tspan x="1945" dy="14.1">，表示( )个( )。</tspan></text></g>
<g id="b4-o4c"><rect class="n r4" x="1939" y="3457" width="233.5" height="53"/><text class="t" x="1945" y="3473.5">(3)、36是由( )个十和( )个一组成的;4个十和5<tspan x="1945" dy="14.1">个一组成的数是( );99里有( )个十和( )个一，</tspan><tspan x="1945" dy="14.1">它后面是( )。</tspan></text></g>
<g id="b4-o4d"><rect class="n r4" x="1939" y="3535.7" width="147" height="25"/><text class="t" x="1945" y="3552.2">(4)、按照数据的顺序填数：</text></g>
<g id="b4-o5"><rect class="n r4" x="1683.3" y="3585.7" width="180.7" height="25"/><text class="t" x="1689.3" y="3602.2">34、35、( )、37 69、70、( )、72</text></g>
<g id="b4-o6"><rect class="n r4" x="1683.3" y="3663.3" width="234" height="39"/><text class="t" x="1689.3" y="3679.8">2、同学们学得真不错，下面再来看看这两道<tspan x="1689.3" dy="14.1">题。</tspan></text></g>
<g id="b4-o6a"><rect class="n r4" x="1939" y="3635" width="174.8" height="25"/><text class="t" x="1945" y="3651.5">(1)、在○里填入“&gt;”、“&lt;”、“=”。</text></g>
<g id="b4-o6a1"><rect class="n r4" x="2135.6" y="3635" width="97" height="25"/><text class="t" x="2141.6" y="3651.5">15○20 11○9 8○8</text></g>
<g id="b4-o6b"><rect class="n r4" x="1939" y="3698.5" width="233.5" height="39"/><text class="t" x="1945" y="3715">(2)在66、25、9、89、75、100这些数中，<tspan x="1945" dy="14.1">最小的是( )，的是( )。</tspan></text></g>
<g id="b4-o6b1"><rect class="n r4" x="2195" y="3684.7" width="234" height="67"/><text class="t" x="2201" y="3701.2">生回答后，问：“你怎么能这么快就知道哪个<tspan x="2201" dy="14.1">数最小，哪个数?”引导学生说出一位数比两位</tspan><tspan x="2201" dy="14.1">数小，两位数比三位数小，最终得出：位数多</tspan><tspan x="2201" dy="14.1">的数较大。</tspan></text></g>
<g id="b4-o7"><rect class="n r4" x="1683.3" y="3777.5" width="83.5" height="25"/><text class="t" x="1689.3" y="3794">3、即时练习。</text></g>
<g id="b4-o8"><rect class="n r4" x="1683.3" y="3826.5" width="234" height="53"/><text class="t" x="1689.3" y="3843">4、如果都是两位数，我们能不能也这么快的<tspan x="1689.3" dy="14.1">比出大小呢?这节课我们接着学习100以内数</tspan><tspan x="1689.3" dy="14.1">的大小比较。(板书课题。)</tspan></text></g>
<g id="b4-o8a"><rect class="n r4" x="1939" y="3841.8" width="77.7" height="25"/><text class="t" x="1945" y="3858.3">二、探究新知</text></g>
<g id="b4-o9"><rect class="n r4" x="1683.3" y="3908" width="234" height="67"/><text class="t" x="1689.3" y="3924.5">1、我们来做一个游戏，老师手上有一些卡片<tspan x="1689.3" dy="14.1">，卡片上都是两位数，我们请两个小组派出一</tspan><tspan x="1689.3" dy="14.1">位代表来抽取卡片，看看哪组抽取的卡片上的</tspan><tspan x="1689.3" dy="14.1">数更大。</tspan></text></g>
<g id="b4-o9a"><rect class="n r4" x="1939" y="3905.6" width="66.4" height="25"/><text class="t" x="1945" y="3922.1">开始游戏。</text></g>
<g id="b4-o9b"><rect class="n r4" x="1939" y="3955" width="233.5" height="25"/><text class="t" x="1945" y="3971.5">在游戏中使学生明白比较两位数大小的方法。</text></g>
<g id="b4-o10"><rect class="n r4" x="1683.3" y="4004.6" width="234" height="67"/><text class="t" x="1689.3" y="4021.1">2、小结100以内数的大小比较的方法：比较<tspan x="1689.3" dy="14.1">大小，先看数的位数，位数多的数更大;如果</tspan><tspan x="1689.3" dy="14.1">都是两位数，十位不同比十位，十位相同比个</tspan><tspan x="1689.3" dy="14.1">位。</tspan></text></g>
<g id="b4-o10a"><rect class="n r4" x="1939" y="4026" width="88" height="25"/><text class="t" x="1945" y="4042.5">三、巩固练习：</text></g>
<g id="b4-o11"><rect class="n r4" x="1683.3" y="4096" width="234" height="39"/><text class="t" x="1689.3" y="4112.5">1、学生独立完成教材第42页的“做一做”，再<tspan x="1689.3" dy="14.1">指名学生说说是怎么比的。</tspan></text></g>
<g id="b4-o12"><rect class="n r4" x="1683.3" y="4161.4" width="234" height="67"/><text class="t" x="1689.3" y="4177.9">2、你能说一说六十几有哪些数?(按顺序说一<tspan x="1689.3" dy="14.1">说)这些数与六十相比，比六十大还是小?比七</tspan><tspan x="1689.3" dy="14.1">十呢?四十几在几十与几十之间?八十几比几十</tspan><tspan x="1689.3" dy="14.1">大，比几十小?</tspan></text></g>
<g id="b4-o12a"><rect class="n r4" x="1939" y="4183" width="77.7" height="25"/><text class="t" x="1945" y="4199.5">四、拓展题。</text></g>
<g id="b4-o13"><rect class="n r4" x="1683.3" y="4253.8" width="91" height="25"/><text class="t" x="1689.3" y="4270.3">1、连线。(课件)</text></g>
<g id="b4-o14"><rect class="n r4" x="1683.3" y="4303" width="106" height="25"/><text class="t" x="1689.3" y="4319.5">2、填上合适的数。</text></g>
<g id="b4-o14a"><rect class="n r4" x="1811.2" y="4303" width="207" height="25"/><text class="t" x="1817.2" y="4319.5">26&lt;2□ 47&gt;□7 100&gt;3□ 58&lt;5□ 78&lt;□2</text></g>
<g id="b4-o15"><rect class="n r4" x="1683.3" y="4353.5" width="141.5" height="25"/><text class="t" x="1689.3" y="4370">3、你知道我是谁吗?(课件)</text></g>
<g id="b4-o15a"><rect class="n r4" x="1847.4" y="4353.5" width="87.3" height="25"/><text class="t" x="1853.4" y="4370">五、全课小结：</text></g>
<g id="b4-o15b"><rect class="n r4" x="1957.2" y="4353.5" width="104.6" height="25"/><text class="t" x="1963.2" y="4370">今天你有什么收获?</text></g>
</g>

<g id="related">
<g id="m6"><rect x="1419" y="4612.3" width="274.8" height="52.5" rx="26" fill="#ec1477"/><text x="1444.7" y="4634" style="font-family:'Noto Sans CJK SC',sans-serif;font-size:14.4px;fill:#fff">一年级数学上学期教案文案相关文<tspan x="1444.7" dy="19">章：</tspan></text></g>
<g id="rel1"><rect class="n r6" x="1716.4" y="4403" width="179" height="25"/><text class="t" x="1722.4" y="4419.5">★ 新一年级数学上册教案最新文案</text></g>
<g id="rel2"><rect class="n r6" x="1716.4" y="4452.9" width="190.4" height="25"/><text class="t" x="1722.4" y="4469.4">★ 小学一年级数学优质教案最新文案</text></g>
<g id="rel3"><rect class="n r6" x="1716.4" y="4502.5" width="201.6" height="25"/><text class="t" x="1722.4" y="4519">★ 小学一年级数学上册教案人教版文案</text></g>
<g id="rel4"><rect class="n r6" x="1716.4" y="4552" width="179" height="25"/><text class="t" x="1722.4" y="4568.5">★ 一年级的上册数学教案最新文案</text></g>
<g id="rel5"><rect class="n r6" x="1716.4" y="4601.9" width="168" height="25"/><text class="t" x="1722.4" y="4618.4">★ 一年级数学校本教案最新文案</text></g>
<g id="rel6"><rect class="n r6" x="1716.4" y="4651" width="216.6" height="25"/><text class="t" x="1722.4" y="4667.5">★ 一年级数学上册高效课堂教案2021文案</text></g>
<g id="rel7"><rect class="n r6" x="1716.4" y="4701" width="228" height="25"/><text class="t" x="1722.4" y="4717.5">★ 人教版一年级数学上册备课教案2021文案</text></g>
<g id="rel8"><rect class="n r6" x="1716.4" y="4750.5" width="213" height="25"/><text class="t" x="1722.4" y="4767">★ 新人教版一年级上册数学教案最新文案</text></g>
<g id="rel9"><rect class="n r6" x="1716.4" y="4800.2" width="228" height="25"/><text class="t" x="1722.4" y="4816.7">★ 人教版一年级数学上册电子教案2021文案</text></g>
<g id="rel10"><rect class="n r6" x="1716.4" y="4849.5" width="179" height="25"/><text class="t" x="1722.4" y="4866">★ 一年级数学兴趣班教案最新文案</text></g>
</g>
</g>
</svg>
